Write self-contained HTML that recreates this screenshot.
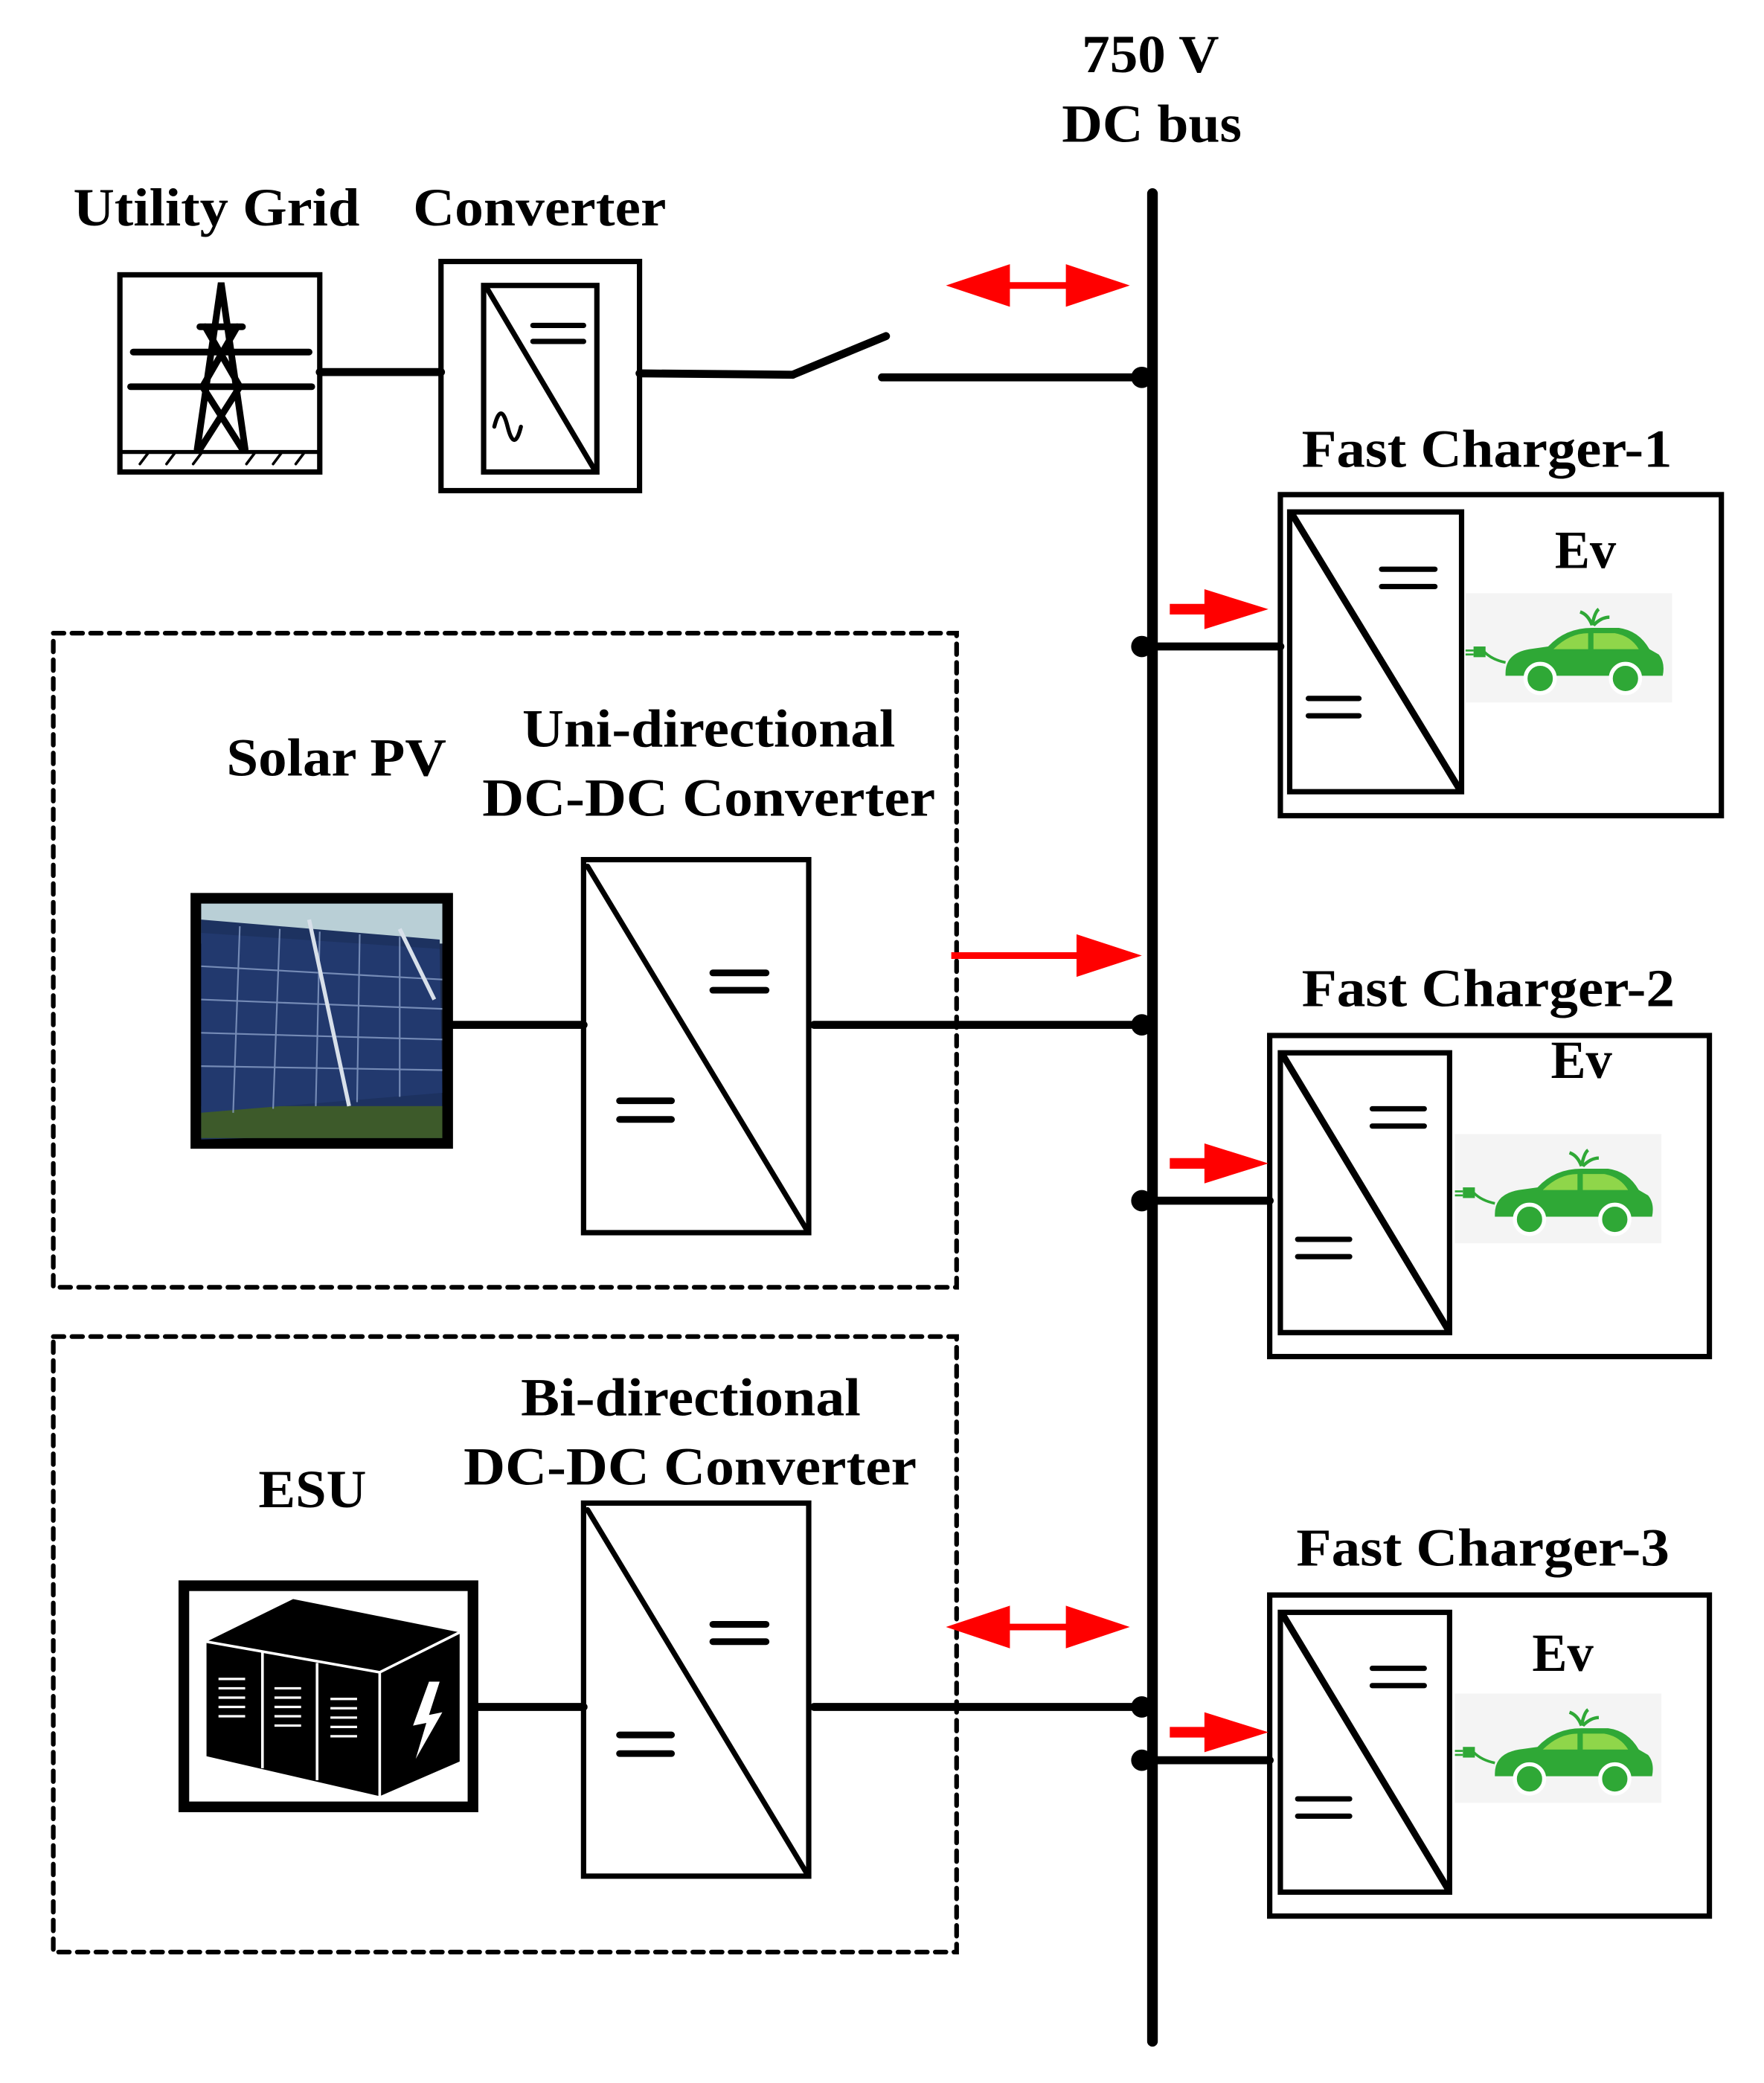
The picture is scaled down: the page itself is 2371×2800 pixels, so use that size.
<!DOCTYPE html>
<html><head><meta charset="utf-8"><style>
html,body{margin:0;padding:0;background:#fff;}
svg{display:block;}
text{font-family:"Liberation Serif",serif;font-weight:bold;fill:#000;}
</style></head><body>
<svg width="2371" height="2800" viewBox="0 0 1324 1563" xmlns="http://www.w3.org/2000/svg">
<defs>
<g id="car">
  <rect x="0" y="0" width="155" height="82" fill="#f4f4f4"/>
  <path d="M30 60 Q30 45 48 42 L62 40 Q75 26 95 26 L115 26 Q130 28 138 42 L145 46 Q150 52 148 62 L30 62 Z" fill="#2fa836"/>
  <path d="M66 42 Q78 30 92 30 L92 42 Z" fill="#8fd64a"/>
  <path d="M96 30 L112 30 Q124 32 130 42 L96 42 Z" fill="#8fd64a"/>
  <circle cx="56" cy="64" r="11" fill="#2fa836" stroke="#fff" stroke-width="3"/>
  <circle cx="120" cy="64" r="11" fill="#2fa836" stroke="#fff" stroke-width="3"/>
  <path d="M95 24 Q92 16 86 14 M95 24 Q97 14 100 12 M96 24 Q102 18 108 18" stroke="#2fa836" stroke-width="2.5" fill="none"/>
  <path d="M30 52 Q20 50 14 44" stroke="#2fa836" stroke-width="2" fill="none"/>
  <rect x="6" y="40" width="9" height="8" fill="#2fa836"/>
  <line x1="0" y1="43" x2="6" y2="43" stroke="#2fa836" stroke-width="1.5"/>
  <line x1="0" y1="46" x2="6" y2="46" stroke="#2fa836" stroke-width="1.5"/>
</g>
</defs>

<g stroke="#000" fill="none" stroke-linecap="round">
<line x1="865" y1="145" x2="865" y2="1532" stroke-width="8"/>

<rect x="90" y="206" width="150" height="148" stroke-width="4"/>
<line x1="90" y1="339" x2="240" y2="339" stroke-width="3"/>
<g stroke-width="5">
<path d="M148 337 L166 212 L184 337"/>
<line x1="100" y1="264" x2="232" y2="264"/>
<line x1="98" y1="290" x2="234" y2="290"/>
<line x1="150" y1="245" x2="182" y2="245"/>
<path d="M154 245 L180 290 M178 245 L152 290 M152 290 L182 337 M180 290 L150 337"/>
</g>
<path d="M105 348 l6 -8 M125 348 l6 -8 M145 348 l6 -8 M185 348 l6 -8 M205 348 l6 -8 M222 348 l6 -8" stroke-width="2"/>

<rect x="331" y="196" width="149" height="172" stroke-width="4"/>
<rect x="363" y="214" width="85" height="140" stroke-width="4"/>
<line x1="366" y1="217" x2="446" y2="352" stroke-width="4"/>
<line x1="400" y1="244" x2="438" y2="244" stroke-width="4"/>
<line x1="400" y1="256" x2="438" y2="256" stroke-width="4"/>
<path d="M371 320 q5 -20 10 0 t10 0" stroke-width="3"/>

<line x1="240" y1="279" x2="331" y2="279" stroke-width="6"/>
<line x1="480" y1="280" x2="595" y2="281" stroke-width="6"/>
<line x1="595" y1="281" x2="665" y2="252" stroke-width="6"/>
<line x1="662" y1="283" x2="857" y2="283" stroke-width="6"/>

<rect x="40" y="475" width="678" height="491" stroke-width="3.5" stroke-dasharray="8 6"/>
<rect x="40" y="1003" width="678" height="462" stroke-width="3.5" stroke-dasharray="8 6"/>

<rect x="438" y="645" width="169" height="280" stroke-width="4"/>
<line x1="441" y1="650" x2="605" y2="922" stroke-width="4"/>
<line x1="535" y1="730" x2="575" y2="730" stroke-width="5"/>
<line x1="535" y1="743" x2="575" y2="743" stroke-width="5"/>
<line x1="465" y1="826" x2="504" y2="826" stroke-width="5"/>
<line x1="465" y1="840" x2="504" y2="840" stroke-width="5"/>
<line x1="338" y1="769" x2="438" y2="769" stroke-width="6"/>
<line x1="611" y1="769" x2="857" y2="769" stroke-width="6"/>

<rect x="438" y="1128" width="169" height="280" stroke-width="4"/>
<line x1="441" y1="1133" x2="605" y2="1405" stroke-width="4"/>
<line x1="535" y1="1219" x2="575" y2="1219" stroke-width="5"/>
<line x1="535" y1="1232" x2="575" y2="1232" stroke-width="5"/>
<line x1="465" y1="1302" x2="504" y2="1302" stroke-width="5"/>
<line x1="465" y1="1316" x2="504" y2="1316" stroke-width="5"/>
<line x1="355" y1="1281" x2="438" y2="1281" stroke-width="6"/>
<line x1="611" y1="1281" x2="857" y2="1281" stroke-width="6"/>

<rect x="961" y="371" width="331" height="241" stroke-width="4"/>
<rect x="968" y="384" width="129" height="210" stroke-width="4"/>
<line x1="970" y1="386" x2="1096" y2="593" stroke-width="5"/>
<line x1="1037" y1="427" x2="1077" y2="427" stroke-width="4"/>
<line x1="1037" y1="440" x2="1077" y2="440" stroke-width="4"/>
<line x1="982" y1="524" x2="1020" y2="524" stroke-width="4"/>
<line x1="982" y1="537" x2="1020" y2="537" stroke-width="4"/>
<line x1="857" y1="485" x2="961" y2="485" stroke-width="6"/>

<rect x="953" y="777" width="330" height="241" stroke-width="4"/>
<rect x="961" y="790" width="127" height="210" stroke-width="4"/>
<line x1="963" y1="792" x2="1087" y2="998" stroke-width="5"/>
<line x1="1030" y1="832" x2="1069" y2="832" stroke-width="4"/>
<line x1="1030" y1="845" x2="1069" y2="845" stroke-width="4"/>
<line x1="974" y1="930" x2="1013" y2="930" stroke-width="4"/>
<line x1="974" y1="943" x2="1013" y2="943" stroke-width="4"/>
<line x1="857" y1="901" x2="953" y2="901" stroke-width="6"/>

<rect x="953" y="1197" width="330" height="241" stroke-width="4"/>
<rect x="961" y="1210" width="127" height="210" stroke-width="4"/>
<line x1="963" y1="1212" x2="1087" y2="1418" stroke-width="5"/>
<line x1="1030" y1="1252" x2="1069" y2="1252" stroke-width="4"/>
<line x1="1030" y1="1265" x2="1069" y2="1265" stroke-width="4"/>
<line x1="974" y1="1350" x2="1013" y2="1350" stroke-width="4"/>
<line x1="974" y1="1363" x2="1013" y2="1363" stroke-width="4"/>
<line x1="857" y1="1321" x2="953" y2="1321" stroke-width="6"/>
</g>

<g fill="#000">
<circle cx="857" cy="283" r="8"/><circle cx="857" cy="485" r="8"/>
<circle cx="857" cy="769" r="8"/><circle cx="857" cy="901" r="8"/>
<circle cx="857" cy="1281" r="8"/><circle cx="857" cy="1321" r="8"/>
</g>

<g fill="#f00" stroke="#f00">
<line x1="730" y1="214" x2="828" y2="214" stroke-width="5"/>
<polygon points="710,214 758,198 758,230" stroke="none"/>
<polygon points="848,214 800,198 800,230" stroke="none"/>
<line x1="730" y1="1221" x2="828" y2="1221" stroke-width="5"/>
<polygon points="710,1221 758,1205 758,1237" stroke="none"/>
<polygon points="848,1221 800,1205 800,1237" stroke="none"/>
<line x1="714" y1="717" x2="815" y2="717" stroke-width="5"/>
<polygon points="857,717 808,701 808,733" stroke="none"/>
<line x1="878" y1="457" x2="910" y2="457" stroke-width="8"/>
<polygon points="952,457 904,442 904,472" stroke="none"/>
<line x1="878" y1="873" x2="910" y2="873" stroke-width="8"/>
<polygon points="952,873 904,858 904,888" stroke="none"/>
<line x1="878" y1="1300" x2="910" y2="1300" stroke-width="8"/>
<polygon points="952,1300 904,1285 904,1315" stroke="none"/>
</g>

<rect x="147" y="674" width="189" height="184" fill="#1c2a48" stroke="#000" stroke-width="8"/>
<rect x="151" y="678" width="181" height="30" fill="#b9cfd6"/>
<polygon points="151,690 330,705 332,850 151,855" fill="#1d3260"/>
<rect x="151" y="830" width="181" height="24" fill="#3d5a2a"/>
<polygon points="151,700 330,712 332,820 151,835" fill="#22396e"/>
<g stroke="#8aa0c8" stroke-width="1.2" opacity="0.8">
<line x1="151" y1="725" x2="332" y2="735"/><line x1="151" y1="750" x2="332" y2="757"/>
<line x1="151" y1="775" x2="332" y2="780"/><line x1="151" y1="800" x2="332" y2="803"/>
<line x1="180" y1="695" x2="175" y2="835"/><line x1="210" y1="697" x2="205" y2="832"/>
<line x1="240" y1="699" x2="237" y2="830"/><line x1="270" y1="701" x2="268" y2="827"/>
<line x1="300" y1="703" x2="300" y2="823"/>
</g>
<g stroke="#d8e0ea" stroke-width="3"><line x1="232" y1="690" x2="262" y2="830"/><line x1="300" y1="697" x2="326" y2="750"/></g>

<rect x="138" y="1190" width="217" height="166" fill="#fff" stroke="#000" stroke-width="8"/>
<polygon points="155,1232 220,1200 345,1225 285,1255" fill="#000"/>
<polygon points="155,1232 285,1255 285,1348 155,1318" fill="#000"/>
<polygon points="285,1255 345,1225 345,1322 285,1348" fill="#000"/>
<g stroke="#fff" stroke-width="2">
<line x1="155" y1="1232" x2="285" y2="1255"/><line x1="285" y1="1255" x2="345" y2="1225"/><line x1="285" y1="1255" x2="285" y2="1348"/>
<line x1="197" y1="1240" x2="197" y2="1327"/><line x1="238" y1="1248" x2="238" y2="1336"/>
</g>
<g stroke="#fff" stroke-width="1.8">
<path d="M164 1260h20M164 1267h20M164 1274h20M164 1281h20M164 1288h20"/>
<path d="M206 1267h20M206 1274h20M206 1281h20M206 1288h20M206 1295h20"/>
<path d="M248 1275h20M248 1282h20M248 1289h20M248 1296h20M248 1303h20"/>
</g>
<polygon points="322,1262 310,1295 320,1293 312,1320 332,1285 322,1287 330,1262" fill="#fff"/>

<use href="#car" x="1100" y="445"/>
<use href="#car" x="1092" y="851"/>
<use href="#car" x="1092" y="1271"/>

<g font-size="40" lengthAdjust="spacingAndGlyphs">
<text x="812" y="54" textLength="103" lengthAdjust="spacingAndGlyphs">750 V</text>
<text x="797" y="106" textLength="135" lengthAdjust="spacingAndGlyphs">DC bus</text>
<text x="55" y="169" textLength="215" lengthAdjust="spacingAndGlyphs">Utility Grid</text>
<text x="310" y="169" textLength="190" lengthAdjust="spacingAndGlyphs">Converter</text>
<text x="977" y="350" textLength="278" lengthAdjust="spacingAndGlyphs">Fast Charger-1</text>
<text x="977" y="755" textLength="280" lengthAdjust="spacingAndGlyphs">Fast Charger-2</text>
<text x="973" y="1175" textLength="280" lengthAdjust="spacingAndGlyphs">Fast Charger-3</text>
<text x="170" y="582" textLength="165" lengthAdjust="spacingAndGlyphs">Solar PV</text>
<text x="392" y="560" textLength="280" lengthAdjust="spacingAndGlyphs">Uni-directional</text>
<text x="362" y="612" textLength="340" lengthAdjust="spacingAndGlyphs">DC-DC Converter</text>
<text x="194" y="1131" textLength="81" lengthAdjust="spacingAndGlyphs">ESU</text>
<text x="391" y="1062" textLength="255" lengthAdjust="spacingAndGlyphs">Bi-directional</text>
<text x="348" y="1114" textLength="340" lengthAdjust="spacingAndGlyphs">DC-DC Converter</text>
<text x="1167" y="426" textLength="46" lengthAdjust="spacingAndGlyphs">Ev</text>
<text x="1164" y="809" textLength="46" lengthAdjust="spacingAndGlyphs">Ev</text>
<text x="1150" y="1254" textLength="46" lengthAdjust="spacingAndGlyphs">Ev</text>
</g>
</svg>
</body></html>
